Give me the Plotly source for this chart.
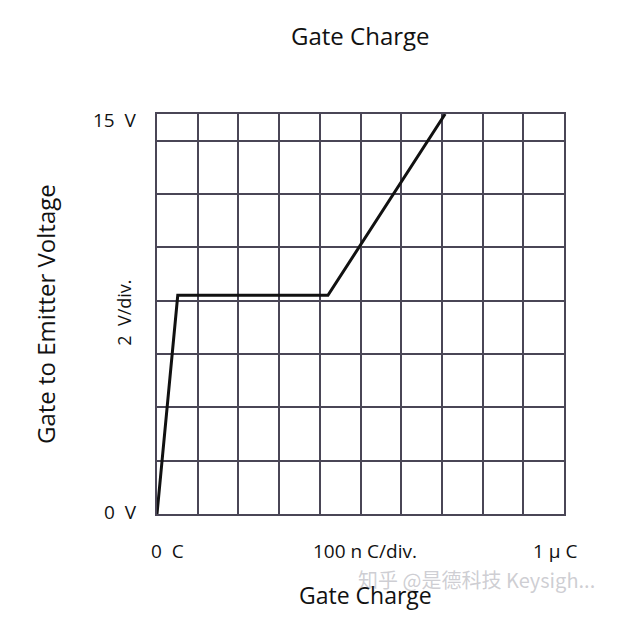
import plotly.graph_objects as go

# Data (gate charge in nC, gate-emitter voltage in V)
charge_nC = [0, 51, 420, 708]
voltage_V = [0, 8.2, 8.2, 15]

x_grid = [0, 100, 200, 300, 400, 500, 600, 700, 800, 900, 1000]
y_grid = [0, 2, 4, 6, 8, 10, 12, 14, 15]

x_labels = ["0  C", "100 n C/div.", "1 μ C"]
x_label_pos = [0, 500, 1000]
y_labels = ["0  V", "15  V"]
y_label_pos = [0, 15]
y_div_label = "2  V/div."

FONT = "Open Sans, Noto Sans, sans-serif"
GRID = "#4a4656"
TXT = "#111111"

fig = go.Figure()
fig.add_trace(go.Scatter(x=charge_nC, y=voltage_V, mode="lines",
                         line=dict(color="#111111", width=3),
                         hoverinfo="skip", showlegend=False))

fig.update_layout(
    width=610, height=620,
    margin=dict(l=149, r=54, t=106, b=114),
    paper_bgcolor="white", plot_bgcolor="white",
    xaxis=dict(range=[0, 1000], tickvals=x_grid, showticklabels=False, ticks="",
               showgrid=True, gridcolor=GRID, gridwidth=1.5, zeroline=False,
               showline=True, linecolor=GRID, linewidth=1.5, mirror=True, fixedrange=True),
    yaxis=dict(range=[0, 15], tickvals=y_grid, showticklabels=False, ticks="",
               showgrid=True, gridcolor=GRID, gridwidth=1.5, zeroline=False,
               showline=True, linecolor=GRID, linewidth=1.5, mirror=True, fixedrange=True),
)

ann = []
# top title
ann.append(dict(x=500, y=15, xref="x", yref="y", text="Gate Charge", showarrow=False,
                xanchor="center", yanchor="middle", yshift=79,
                font=dict(family=FONT, size=24, color=TXT)))
# x labels
x_shifts = [10, 4, -9]
for lab, pos, xs in zip(x_labels, x_label_pos, x_shifts):
    ann.append(dict(x=pos, y=0, xref="x", yref="y", text=lab, showarrow=False,
                    xanchor="center", yanchor="middle", yshift=-37, xshift=xs,
                    font=dict(family=FONT, size=19, color=TXT)))
# y labels
y_shifts = [2, -6]
for lab, pos, ys in zip(y_labels, y_label_pos, y_shifts):
    ann.append(dict(x=0, y=pos, xref="x", yref="y", text=lab, showarrow=False,
                    xanchor="right", yanchor="middle", xshift=-18, yshift=ys,
                    font=dict(family=FONT, size=19, color=TXT)))
ann.append(dict(x=0, y=7.55, xref="x", yref="y", text=y_div_label, showarrow=False,
                textangle=-90, xanchor="center", yanchor="middle", xshift=-33,
                font=dict(family=FONT, size=18, color=TXT)))
# y title
ann.append(dict(x=0, y=7.5, xref="x", yref="y", text="Gate to Emitter Voltage",
                showarrow=False, textangle=-90, xanchor="center", yanchor="middle",
                xshift=-112, font=dict(family=FONT, size=24, color=TXT)))
# watermark
ann.append(dict(x=1000, y=0, xref="x", yref="y", text="知乎 @是德科技 Keysigh...",
                showarrow=False, xanchor="right", yanchor="middle", xshift=33, yshift=-65,
                font=dict(family="Noto Sans CJK SC, sans-serif", size=20,
                          color="rgba(185,185,192,0.7)")))
# bottom x title
ann.append(dict(x=500, y=0, xref="x", yref="y", text="Gate Charge", showarrow=False,
                xanchor="center", yanchor="middle", xshift=5, yshift=-81,
                font=dict(family=FONT, size=23, color=TXT)))
fig.update_layout(annotations=ann)

fig.write_html("out.html")
